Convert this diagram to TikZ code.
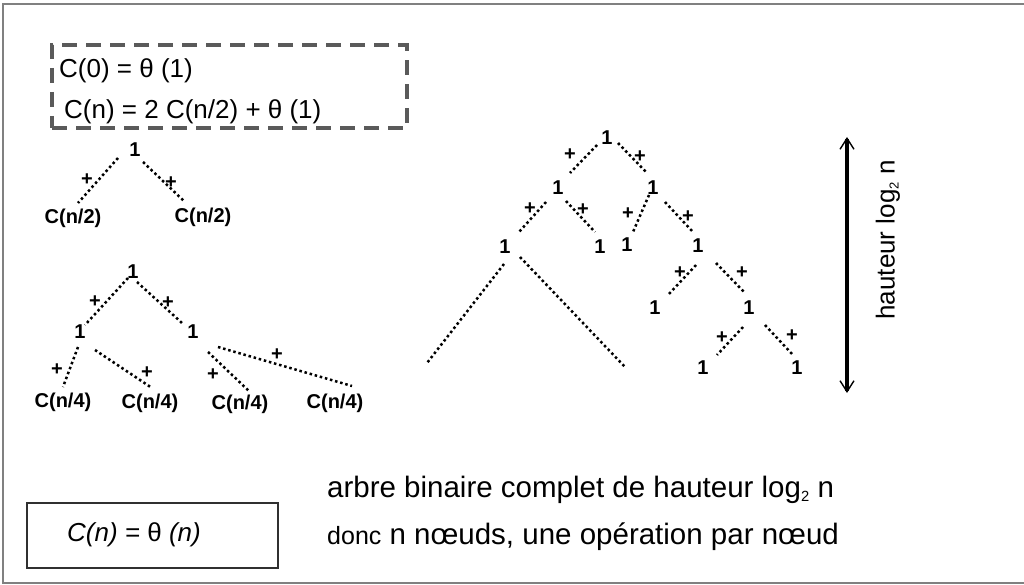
\documentclass[tikz,border=0pt]{standalone}
\usepackage{fontspec}
\setmainfont{Liberation Sans}
\usetikzlibrary{arrows.meta}
\definecolor{framegray}{HTML}{808080}
\definecolor{dashgray}{HTML}{5A5A5A}
\definecolor{boxdark}{HTML}{303030}
% small lowered index, as in log_2
\newcommand{\lowidx}[1]{\raisebox{-0.28ex}{\scalebox{0.5}{#1}}}
\begin{document}
\begin{tikzpicture}[x=1pt,y=-1pt,
  lbl/.style={font=\bfseries\fontsize{20}{20}\selectfont, inner sep=0pt},
  plus/.style={font=\bfseries\fontsize{20}{20}\selectfont, inner sep=0pt},
  dotline/.style={line width=2.5pt, dash pattern=on 2.5pt off 2.8pt},
  eqtxt/.style={font=\fontsize{26}{26}\selectfont, inner sep=0pt, anchor=west},
  bigtxt/.style={font=\fontsize{29.5}{29.5}\selectfont, inner sep=0pt, anchor=west},
  dashbox/.style={draw=dashgray, line width=3.2pt, dash pattern=on 15pt off 9pt, inner sep=0pt},
  solidbox/.style={draw=boxdark, line width=2.6pt, inner sep=0pt}]
\useasboundingbox (0,0) rectangle (1024,585);

% outer frame, open on the right
\draw[framegray, line width=1.5pt] (1030,4) -- (3,4) -- (3,583) -- (1030,583);

% recurrence
\node[dashbox, minimum width=355pt, minimum height=83pt] (rec) at (229.5,86.5) {};
\node[eqtxt] (eq0) at (59,71) {C(0) = θ (1)};
\node[eqtxt] (eq1) at (64,112) {C(n) = 2 C(n/2) + θ (1)};

% first unfolding
\node[lbl] (t1r) at (135,150) {1};
\node[lbl] (t1a) at (73,218) {C(n/2)};
\node[lbl] (t1b) at (203,217) {C(n/2)};
\draw[dotline] ([shift={(-17,8)}]t1r.center) -- ([shift={(5,-15)}]t1a.center);
\draw[dotline] ([shift={(8,12)}]t1r.center) -- ([shift={(-18,-15)}]t1b.center);
\node[plus] (t1p1) at (87,180) {+};
\node[plus] (t1p2) at (171,183) {+};

% second unfolding
\node[lbl] (t2r) at (133,272) {1};
\node[lbl] (t2a) at (80,332) {1};
\node[lbl] (t2b) at (193,332) {1};
\node[lbl] (c1) at (63,402) {C(n/4)};
\node[lbl] (c2) at (150,403) {C(n/4)};
\node[lbl] (c3) at (240,404) {C(n/4)};
\node[lbl] (c4) at (335,403) {C(n/4)};
\draw[dotline] ([shift={(-5,6)}]t2r.center) -- ([shift={(5,-7)}]t2a.center);
\draw[dotline] ([shift={(4,10)}]t2r.center) -- ([shift={(-11,-9)}]t2b.center);
\draw[dotline] ([shift={(-2,15)}]t2a.center) -- ([shift={(0,-15)}]c1.center);
\draw[dotline] ([shift={(15,18)}]t2a.center) -- ([shift={(2,-15)}]c2.center);
\draw[dotline] ([shift={(15,20)}]t2b.center) -- ([shift={(10,-12)}]c3.center);
\draw[dotline] ([shift={(25,15)}]t2b.center) -- ([shift={(17,-17)}]c4.center);
\node[plus] (t2p1) at (95,302) {+};
\node[plus] (t2p2) at (168,303) {+};
\node[plus] (t2p3) at (57,370) {+};
\node[plus] (t2p4) at (147,373) {+};
\node[plus] (t2p5) at (213,375) {+};
\node[plus] (t2p6) at (277,355) {+};

% complete binary tree
\node[lbl] (R) at (607,138) {1};
\node[lbl] (A) at (558,188) {1};
\node[lbl] (B) at (653,188) {1};
\node[lbl] (A1) at (505,247) {1};
\node[lbl] (A2) at (600,247) {1};
\node[lbl] (B1) at (627,245) {1};
\node[lbl] (B2) at (698,246) {1};
\node[lbl] (B21) at (655,308) {1};
\node[lbl] (B22) at (749,308) {1};
\node[lbl] (B221) at (703,368) {1};
\node[lbl] (B222) at (797,368) {1};
\coordinate (L1) at (427,363);
\coordinate (L2) at (625,367);
\draw[dotline] ([shift={(-10,7)}]R.center) -- ([shift={(12,-15)}]A.center);
\draw[dotline] ([shift={(11,5)}]R.center) -- ([shift={(-6,-15)}]B.center);
\draw[dotline] ([shift={(-12,14)}]A.center) -- ([shift={(14,-15)}]A1.center);
\draw[dotline] ([shift={(8,13)}]A.center) -- ([shift={(-5,-15)}]A2.center);
\draw[dotline] ([shift={(-4,7)}]B.center) -- ([shift={(6,-13)}]B1.center);
\draw[dotline] ([shift={(12,14)}]B.center) -- ([shift={(-5,-14)}]B2.center);
\draw[dotline] ([shift={(-1,17)}]A1.center) -- (L1);
\draw[dotline] ([shift={(15,10)}]A1.center) -- (L2);
\draw[dotline] ([shift={(-2,19)}]B2.center) -- ([shift={(13,-13)}]B21.center);
\draw[dotline] ([shift={(18,17)}]B2.center) -- ([shift={(-4,-15)}]B22.center);
\draw[dotline] ([shift={(-6,19)}]B22.center) -- ([shift={(14,-13)}]B221.center);
\draw[dotline] ([shift={(16,17)}]B22.center) -- ([shift={(-4,-13)}]B222.center);
\node[plus] (p1) at (570,155) {+};
\node[plus] (p2) at (640,157) {+};
\node[plus] (p3) at (530,209) {+};
\node[plus] (p4) at (583,210) {+};
\node[plus] (p5) at (628,214) {+};
\node[plus] (p6) at (688,217) {+};
\node[plus] (p7) at (680,273) {+};
\node[plus] (p8) at (742,273) {+};
\node[plus] (p9) at (722,338) {+};
\node[plus] (p10) at (792,336) {+};

% height arrow
\coordinate (hTop) at (847,137);
\coordinate (hBot) at (847,393);
\draw[line width=4pt, {Straight Barb[length=11pt,width=14pt,line width=1.4pt]}-{Straight Barb[length=11pt,width=14pt,line width=1.4pt]}] (hTop) -- (hBot);
\node[rotate=90, font=\fontsize{26}{26}\selectfont, inner sep=0pt] (ht) at (888,240) {hauteur log\lowidx{2} n};

% result and comments
\node[solidbox, minimum width=251pt, minimum height=65pt] (res) at (152.5,535.5) {};
\node[font=\itshape\fontsize{26}{26}\selectfont, inner sep=0pt] (restxt) at (134,535) {C(n) = \textup{θ} (n)};
\node[bigtxt] (note1) at (327,490) {arbre binaire complet de hauteur log\lowidx{2} n};
\node[bigtxt] (note2) at (327,537) {{\fontsize{25}{25}\selectfont donc} n nœuds, une opération par nœud};
\end{tikzpicture}
\end{document}
